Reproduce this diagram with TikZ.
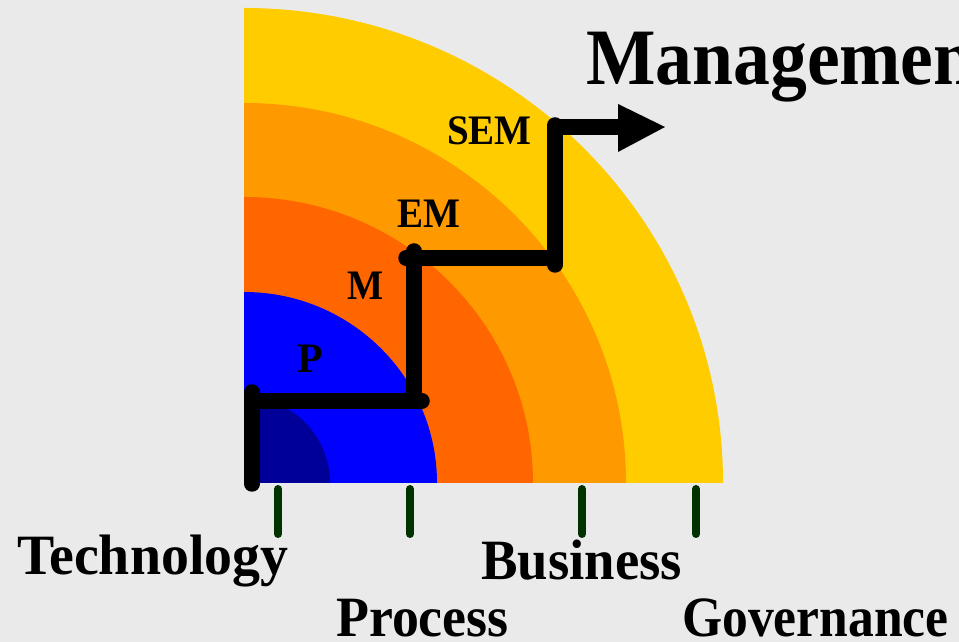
\documentclass[tikz,border=0pt]{standalone}
\usepackage{fontspec}
\setmainfont{Liberation Serif}
\usepackage{graphicx}
\definecolor{bgc}{HTML}{EAEAEA}
\definecolor{yel}{HTML}{FFCC00}
\definecolor{org}{HTML}{FF9900}
\definecolor{dor}{HTML}{FF6600}
\definecolor{blu}{HTML}{0000FF}
\definecolor{dbl}{HTML}{000099}
\definecolor{tickc}{HTML}{003300}
\begin{document}
\begin{tikzpicture}[x=1pt,y=1pt,
  bigtxt/.style={inner sep=0pt,anchor=base west,font=\fontsize{57}{60}\selectfont\bfseries},
  lvltxt/.style={inner sep=0pt,anchor=base west,font=\fontsize{42}{46}\selectfont\bfseries},
  stair/.style={line width=15.5pt,line cap=round,black},
  tickmark/.style={line width=8pt,line cap=round,tickc}]
\useasboundingbox (0,0) rectangle (959,642);
\clip (0,0) rectangle (959,642);
\fill[bgc] (0,0) rectangle (959,642);
\coordinate (C) at (244,159);
% quarter rings
\fill[yel] (C) -- ++(479,0) arc[start angle=0,end angle=90,x radius=479,y radius=475] -- cycle;
\fill[org] (C) -- ++(382,0) arc[start angle=0,end angle=90,x radius=382,y radius=380] -- cycle;
\fill[dor] (C) -- ++(289,0) arc[start angle=0,end angle=90,x radius=289,y radius=286] -- cycle;
\fill[blu] (C) -- ++(193,0) arc[start angle=0,end angle=90,x radius=193,y radius=191] -- cycle;
\fill[dbl] (C) -- ++(86,0) arc[start angle=0,end angle=90,x radius=86,y radius=86] -- cycle;
% ticks
\foreach \tx/\nm in {278/t1,410/t2,582/t3,696/t4}{
  \coordinate (\nm a) at (\tx,153);
  \coordinate (\nm b) at (\tx,108);
  \draw[tickmark] (\nm a) -- (\nm b);
}
% staircase
\coordinate (s0) at (252,158);
\coordinate (s1) at (252,250);
\coordinate (s2a) at (252,241);
\coordinate (s2) at (422,241);
\coordinate (s3a) at (414,241);
\coordinate (s3) at (414,391);
\coordinate (s4a) at (406,384);
\coordinate (s4) at (555,384);
\coordinate (s5a) at (555,377);
\coordinate (s5) at (555,517);
\coordinate (s6a) at (555,515);
\coordinate (s6) at (620,515);
\draw[stair] (s0) -- (s1);
\draw[stair] (s2a) -- (s2);
\draw[stair] (s3a) -- (s3);
\draw[stair] (s4a) -- (s4);
\draw[stair] (s5a) -- (s5);
\draw[line width=15.5pt,black] (s6a) -- (s6);
\fill[black] (618,538) -- (665,515) -- (618,490) -- cycle;
% level labels
\node[lvltxt] (sem) at (447,497) {\scalebox{0.93}[1]{SEM}};
\node[lvltxt] (em) at (397,414) {\scalebox{0.93}[1]{EM}};
\node[lvltxt] (m) at (347,342) {\scalebox{0.91}[1]{M}};
\node[lvltxt] (p) at (297,269) {P};
% big labels
\node[inner sep=0pt,anchor=base west,font=\fontsize{80}{82}\selectfont\bfseries] (mgmt) at (586,557) {\scalebox{0.92}[1]{Management}};
\node[bigtxt] (tech) at (17,67) {\scalebox{0.98}[1]{Technology}};
\node[bigtxt] (proc) at (336,5) {\scalebox{0.945}[1]{Process}};
\node[bigtxt] (bus) at (481,62) {\scalebox{0.96}[1]{Business}};
\node[bigtxt] (gov) at (682,5) {\scalebox{0.905}[1]{Governance}};
\end{tikzpicture}
\end{document}
